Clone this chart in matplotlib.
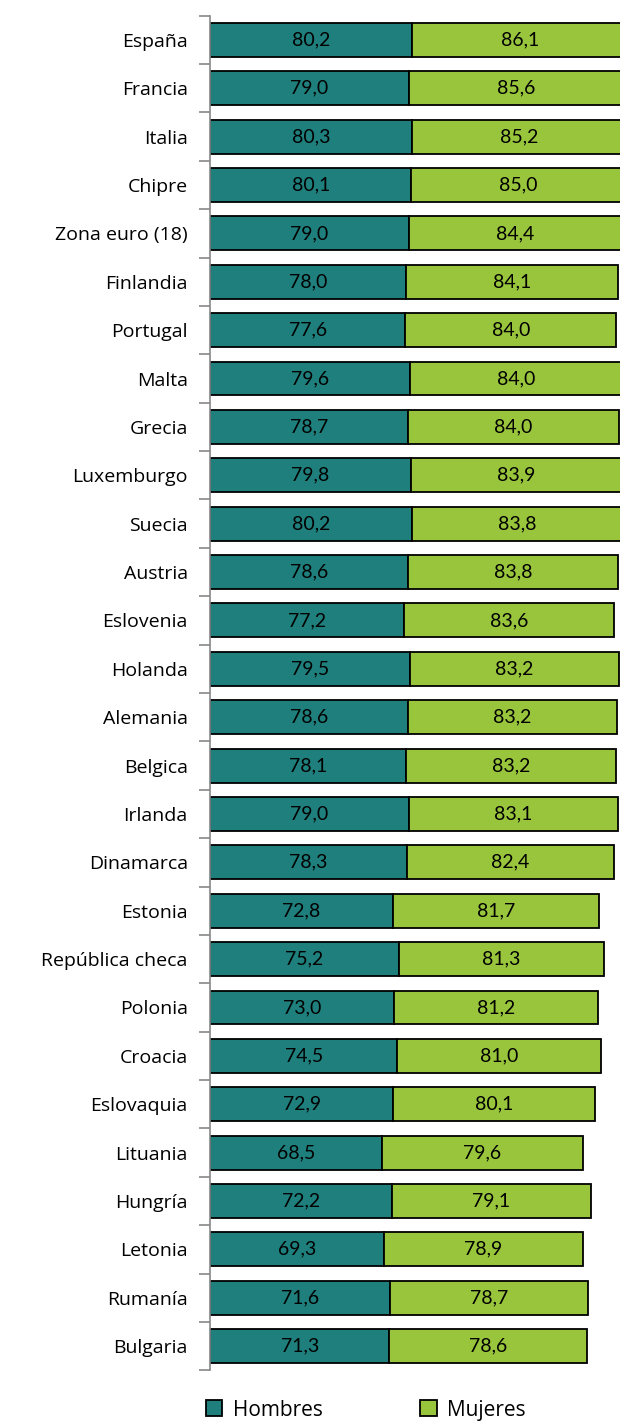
import matplotlib.pyplot as plt
import numpy as np

# Data
paises = ['España', 'Francia', 'Italia', 'Chipre', 'Zona euro (18)', 'Finlandia',
          'Portugal', 'Malta', 'Grecia', 'Luxemburgo', 'Suecia', 'Austria',
          'Eslovenia', 'Holanda', 'Alemania', 'Belgica', 'Irlanda', 'Dinamarca',
          'Estonia', 'República checa', 'Polonia', 'Croacia', 'Eslovaquia',
          'Lituania', 'Hungría', 'Letonia', 'Rumanía', 'Bulgaria']
hombres = [80.2, 79.0, 80.3, 80.1, 79.0, 78.0, 77.6, 79.6, 78.7, 79.8, 80.2, 78.6,
           77.2, 79.5, 78.6, 78.1, 79.0, 78.3, 72.8, 75.2, 73.0, 74.5, 72.9,
           68.5, 72.2, 69.3, 71.6, 71.3]
mujeres = [86.1, 85.6, 85.2, 85.0, 84.4, 84.1, 84.0, 84.0, 84.0, 83.9, 83.8, 83.8,
           83.6, 83.2, 83.2, 83.2, 83.1, 82.4, 81.7, 81.3, 81.2, 81.0, 80.1,
           79.6, 79.1, 78.9, 78.7, 78.6]

col_h = '#1F7F7D'
col_m = '#98C53C'

fig = plt.figure(figsize=(6.2, 14.21), dpi=100)
ax = fig.add_axes([210 / 620, 1 - 1370.3 / 1421, 1 - 210 / 620, (1370.3 - 15.7) / 1421])

y = np.arange(len(paises))
bh = ax.barh(y, hombres, height=0.7, color=col_h, edgecolor='black', linewidth=1.3, label='Hombres')
bm = ax.barh(y, mujeres, left=hombres, height=0.7, color=col_m, edgecolor='black', linewidth=1.3, label='Mujeres')

for i in range(len(paises)):
    ax.text(hombres[i] / 2, y[i], f'{hombres[i]:.1f}'.replace('.', ','),
            ha='center', va='center', fontsize=14, family='Lato', color='black')
    ax.text(hombres[i] + mujeres[i] / 2, y[i], f'{mujeres[i]:.1f}'.replace('.', ','),
            ha='center', va='center', fontsize=14, family='Lato', color='black')

ax.set_xlim(0, 163)
ax.set_ylim(len(paises) - 0.5, -0.5)

for s in ['top', 'right', 'bottom']:
    ax.spines[s].set_visible(False)
ax.spines['left'].set_color('#888888')
ax.spines['left'].set_linewidth(1.2)

ax.set_xticks([])
ax.set_yticks(y)
ax.set_yticklabels(paises, fontsize=14, family='Open Sans')
ax.tick_params(axis='y', which='major', length=0, pad=16)
ax.set_yticks(np.arange(len(paises) + 1) - 0.5, minor=True)
ax.tick_params(axis='y', which='minor', length=8, width=1.2, color='#888888')

fig.legend(handles=[bh, bm], loc='center', bbox_to_anchor=(0.59, 0.0077), ncol=2,
           frameon=False, handlelength=0.8, handleheight=0.8, handletextpad=0.5,
           columnspacing=4.7, borderpad=0, prop={'family': 'Open Sans', 'size': 15})

fig.savefig('out.png', dpi=100)
